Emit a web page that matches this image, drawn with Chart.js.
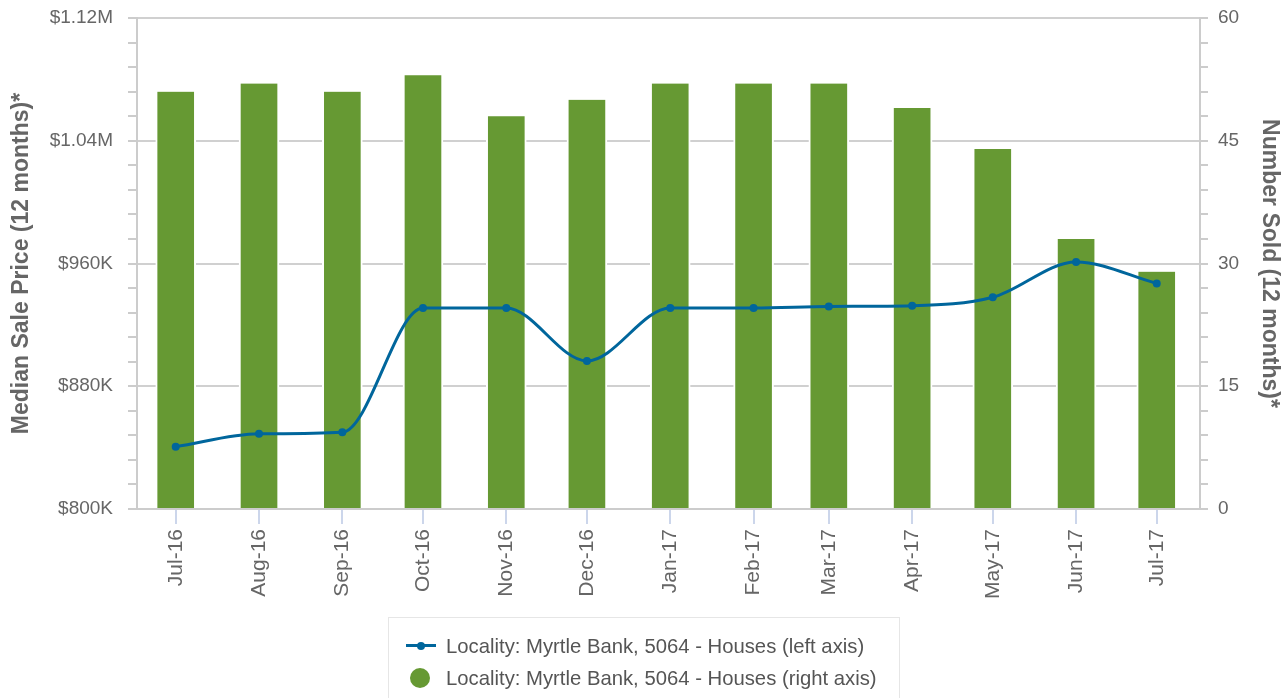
<!DOCTYPE html>
<html>
<head>
<meta charset="utf-8">
<title>Myrtle Bank, 5064 - Houses</title>
<script src="https://cdn.jsdelivr.net/npm/chart.js@4.4.1/dist/chart.umd.min.js"></script>
<style>
    html, body { margin: 0; padding: 0; background: #fff; overflow: hidden; }
    #wrap { position: relative; width: 1288px; height: 698px; }
    #market-chart { position: absolute; left: 0; top: 0; }
    .legend {
        position: absolute; left: 388px; top: 617px; width: 512px; height: 110px;
        border: 1px solid #e6e6e6; box-sizing: border-box;
        font-family: 'Liberation Sans', Arial, sans-serif; font-size: 20.3px; color: #555;
    }
    .legend-item { position: absolute; left: 0; width: 100%; height: 24px; line-height: 24px; white-space: nowrap; }
    .legend-item .text { position: absolute; left: 57px; top: 0; }
    .sym-line { position: absolute; left: 17px; top: 10px; width: 30px; height: 3px; background: #00669c; }
    .sym-line::after {
        content: ''; position: absolute; left: 11px; top: -2.5px; width: 8px; height: 8px;
        border-radius: 50%; background: #00669c;
    }
    .sym-dot { position: absolute; left: 21px; top: 2px; width: 20px; height: 20px; border-radius: 50%; background: #669933; }
</style>
</head>
<body>
<div id="wrap">
    <canvas id="market-chart" width="1288" height="698"></canvas>
    <div class="legend" id="legend"></div>
</div>
<script>
const monthLabels = ['Jul-16', 'Aug-16', 'Sep-16', 'Oct-16', 'Nov-16', 'Dec-16', 'Jan-17',
    'Feb-17', 'Mar-17', 'Apr-17', 'May-17', 'Jun-17', 'Jul-17'];
const monthStarts = ['2016-07-01', '2016-08-01', '2016-09-01', '2016-10-01', '2016-11-01', '2016-12-01',
    '2017-01-01', '2017-02-01', '2017-03-01', '2017-04-01', '2017-05-01', '2017-06-01', '2017-07-01'];

// left axis: median sale price (12 months)
const medianPrice = [840600, 849000, 850000, 931000, 931000, 896500, 931000,
    931000, 932000, 932500, 938000, 961000, 947000];
// right axis: number sold (12 months)
const numberSold = [51, 52, 51, 53, 48, 50, 52, 52, 52, 49, 44, 33, 29];

const priceTicks = [800000, 880000, 960000, 1040000, 1120000];
const priceTickLabels = ['$800K', '$880K', '$960K', '$1.04M', '$1.12M'];
const soldTicks = [0, 15, 30, 45, 60];
const soldTickLabels = ['0', '15', '30', '45', '60'];

const seriesLabels = [
    'Locality: Myrtle Bank, 5064 - Houses (left axis)',
    'Locality: Myrtle Bank, 5064 - Houses (right axis)'
];

const DAY_MS = 86400000;
const monthDays = monthStarts.map(s => (Date.parse(s) - Date.parse(monthStarts[0])) / DAY_MS);

const LINE_COLOR = '#00669c';
const BAR_COLOR = '#669933';
const AXIS_COLOR = '#cccccc';
const TEXT_COLOR = '#666666';

Chart.defaults.font.family = "'Liberation Sans', Arial, sans-serif";
Chart.defaults.color = TEXT_COLOR;

function buildLegend() {
    const legend = document.getElementById('legend');
    const symbols = ['sym-line', 'sym-dot'];
    const tops = [16, 48];
    seriesLabels.forEach((label, i) => {
        const item = document.createElement('div');
        item.className = 'legend-item';
        item.style.top = tops[i] + 'px';
        const sym = document.createElement('span');
        sym.className = symbols[i];
        const text = document.createElement('span');
        text.className = 'text';
        text.textContent = label;
        item.appendChild(sym);
        item.appendChild(text);
        legend.appendChild(item);
    });
}

// fixed axis widths; drop the extra label padding so the plot top lines up
function fixVerticalAxis(width) {
    return axis => {
        axis.width = width;
        axis.paddingTop = 0;
        axis.paddingBottom = 0;
    };
}

function renderChart() {
    const ctx = document.getElementById('market-chart');

    new Chart(ctx, {
        type: 'bar',
        data: {
            datasets: [{
                type: 'line',
                label: seriesLabels[0],
                data: monthDays.map((d, i) => ({ x: d, y: medianPrice[i] })),
                yAxisID: 'yPrice',
                borderColor: LINE_COLOR,
                backgroundColor: LINE_COLOR,
                pointBackgroundColor: LINE_COLOR,
                pointBorderWidth: 0,
                pointRadius: 4,
                borderWidth: 3,
                cubicInterpolationMode: 'monotone',
                fill: false,
                order: 0
            }, {
                type: 'bar',
                label: seriesLabels[1],
                data: monthDays.map((d, i) => ({ x: d, y: numberSold[i] })),
                yAxisID: 'yCount',
                backgroundColor: BAR_COLOR,
                borderColor: '#ffffff',
                borderWidth: { left: 2, right: 2, top: 0, bottom: 0 },
                borderSkipped: 'start',
                barThickness: 40,
                order: 1
            }]
        },
        options: {
            responsive: false,
            animation: false,
            layout: { padding: { top: 18, left: 0, right: 0, bottom: 0 } },
            plugins: {
                legend: { display: false },
                tooltip: { enabled: false }
            },
            scales: {
                x: {
                    type: 'linear',
                    position: 'bottom',
                    min: -14.4,
                    max: 381.1,
                    offset: false,
                    afterBuildTicks: axis => {
                        axis.ticks = monthDays.map(value => ({ value }));
                    },
                    afterFit: axis => { axis.height = 189; },
                    ticks: {
                        autoSkip: false,
                        minRotation: 90,
                        maxRotation: 90,
                        padding: 5,
                        font: { size: 21 },
                        color: TEXT_COLOR,
                        callback: (value, index) => monthLabels[index]
                    },
                    grid: {
                        offset: false,
                        drawOnChartArea: false,
                        drawTicks: true,
                        tickLength: 15,
                        tickColor: '#ccd6eb',
                        lineWidth: 2
                    },
                    border: { color: AXIS_COLOR, width: 2 }
                },
                yPrice: {
                    type: 'linear',
                    position: 'left',
                    min: priceTicks[0],
                    max: priceTicks[priceTicks.length - 1],
                    afterFit: fixVerticalAxis(137),
                    ticks: {
                        stepSize: 16000,
                        autoSkip: false,
                        padding: 15,
                        font: { size: 19 },
                        color: TEXT_COLOR,
                        callback: value => {
                            const i = priceTicks.indexOf(value);
                            return i >= 0 ? priceTickLabels[i] : '';
                        }
                    },
                    grid: {
                        color: c => (c.tick && priceTicks.includes(c.tick.value)) ? '#d0d0d0' : 'rgba(0,0,0,0)',
                        tickColor: AXIS_COLOR,
                        tickLength: 9,
                        lineWidth: 2
                    },
                    border: { color: AXIS_COLOR, width: 2 },
                    title: {
                        display: true,
                        text: 'Median Sale Price (12 months)*',
                        color: TEXT_COLOR,
                        font: { size: 23, weight: 'bold' },
                        padding: { top: 8, bottom: 0 }
                    }
                },
                yCount: {
                    type: 'linear',
                    position: 'right',
                    min: soldTicks[0],
                    max: soldTicks[soldTicks.length - 1],
                    afterFit: fixVerticalAxis(88),
                    ticks: {
                        stepSize: 3,
                        autoSkip: false,
                        padding: 10,
                        font: { size: 19 },
                        color: TEXT_COLOR,
                        callback: value => {
                            const i = soldTicks.indexOf(value);
                            return i >= 0 ? soldTickLabels[i] : '';
                        }
                    },
                    grid: {
                        drawOnChartArea: false,
                        tickColor: AXIS_COLOR,
                        tickLength: 8,
                        lineWidth: 2
                    },
                    border: { color: AXIS_COLOR, width: 2 },
                    title: {
                        display: true,
                        text: 'Number Sold (12 months)*',
                        color: TEXT_COLOR,
                        font: { size: 23, weight: 'bold' },
                        padding: { top: 5, bottom: 0 }
                    }
                }
            }
        }
    });
}

document.addEventListener('DOMContentLoaded', () => {
    buildLegend();
    renderChart();
});
</script>
</body>
</html>
